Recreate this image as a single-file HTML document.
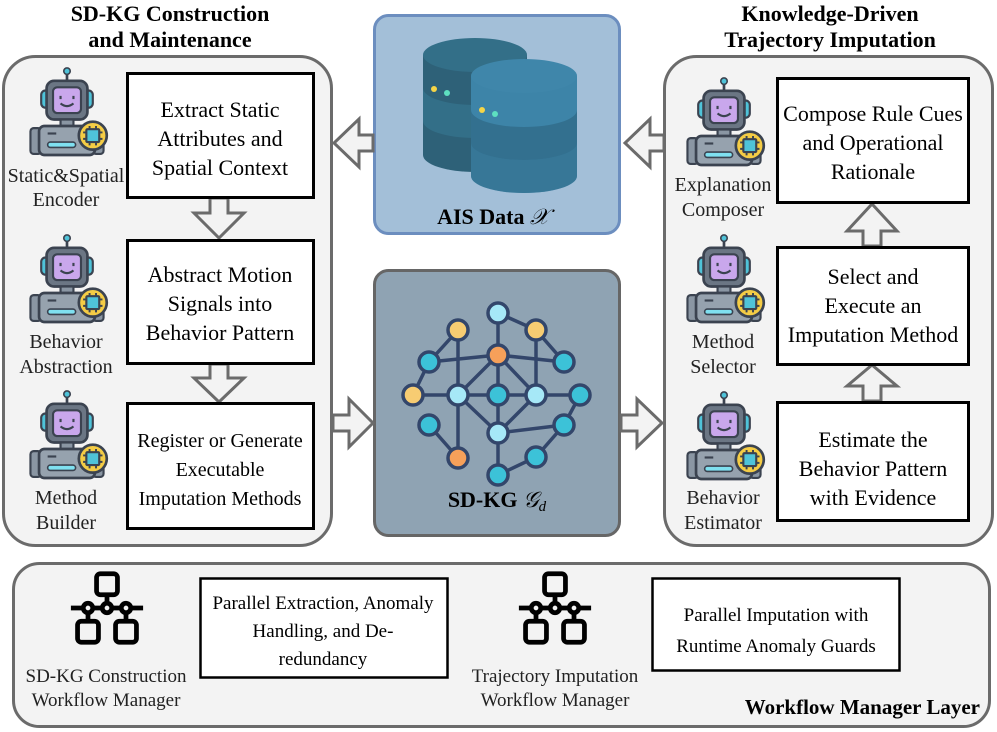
<!DOCTYPE html>
<html><head><meta charset="utf-8"><style>
html,body{margin:0;padding:0;background:#fff;}
svg{display:block;font-family:"Liberation Serif",serif;}
</style></head><body>
<svg width="997" height="732" viewBox="0 0 997 732" xmlns="http://www.w3.org/2000/svg">
<defs>
<symbol id="robot" viewBox="0 0 80 84">
 <line x1="40" y1="4" x2="40" y2="14" stroke="#3b4350" stroke-width="2.5"/>
 <circle cx="40" cy="4" r="3" fill="#4fc3d9" stroke="#3b4350" stroke-width="1.5"/>
 <rect x="16" y="22" width="8" height="16" rx="4" fill="#4fc3d9" stroke="#3b4350" stroke-width="2"/>
 <rect x="56" y="22" width="8" height="16" rx="4" fill="#4fc3d9" stroke="#3b4350" stroke-width="2"/>
 <rect x="21" y="13" width="38" height="36" rx="7" fill="#6b7684" stroke="#3b4350" stroke-width="2.5"/>
 <rect x="27" y="19" width="26" height="24" rx="4" fill="#c9a7ec" stroke="#3b4350" stroke-width="2"/>
 <path d="M34 34 Q40 39 46 34" stroke="#3b4350" stroke-width="2" fill="none"/>
 <line x1="34" y1="27" x2="34" y2="30" stroke="#3b4350" stroke-width="2"/>
 <line x1="46" y1="27" x2="46" y2="30" stroke="#3b4350" stroke-width="2"/>
 <rect x="34" y="49" width="12" height="6" fill="#8a96a3" stroke="#3b4350" stroke-width="2"/>
 <rect x="6" y="57" width="10" height="24" rx="3" fill="#8a96a3" stroke="#3b4350" stroke-width="2"/>
 <rect x="64" y="57" width="10" height="24" rx="3" fill="#8a96a3" stroke="#3b4350" stroke-width="2"/>
 <rect x="14" y="55" width="52" height="27" rx="5" fill="#96a2ae" stroke="#3b4350" stroke-width="2.5"/>
 <rect x="22" y="70" width="26" height="5" rx="2.5" fill="#7fe0f0" stroke="#3b4350" stroke-width="1.5"/>
 <line x1="22" y1="62" x2="30" y2="62" stroke="#3b4350" stroke-width="2"/>
 <circle cx="64" cy="64" r="13" fill="#f4cc45" stroke="#3b4350" stroke-width="2.5"/>
 <rect x="58" y="58" width="12" height="12" rx="1" fill="#4fc3d9" stroke="#3b4350" stroke-width="2"/>
 <path d="M61 55v3M67 55v3M61 70v3M67 70v3M55 61h3M55 67h3M70 61h3M70 67h3" stroke="#3b4350" stroke-width="1.8"/>
</symbol>
<symbol id="flow" viewBox="0 0 80 80">
 <g fill="none" stroke="#000" stroke-width="5">
 <rect x="29" y="4" width="22" height="22" rx="4"/>
 <line x1="40" y1="26" x2="40" y2="35"/>
 <line x1="2" y1="40" x2="78" y2="40"/>
 <circle cx="20" cy="40" r="5" fill="#f2f2f2"/>
 <circle cx="40" cy="40" r="5" fill="#f2f2f2"/>
 <circle cx="60" cy="40" r="5" fill="#f2f2f2"/>
 <line x1="20" y1="45" x2="20" y2="54"/>
 <line x1="60" y1="45" x2="60" y2="54"/>
 <rect x="9" y="54" width="22" height="22" rx="4"/>
 <rect x="49" y="54" width="22" height="22" rx="4"/>
 </g>
</symbol>
</defs>

<g font-weight="bold" font-size="22" text-anchor="middle" fill="#000">
<text x="170" y="21">SD-KG Construction</text>
<text x="170" y="47">and Maintenance</text>
<text x="830" y="21">Knowledge-Driven</text>
<text x="830" y="47">Trajectory Imputation</text>
</g>

<rect x="3.5" y="56.5" width="328" height="489" rx="32" fill="#f3f3f3" stroke="#6b6b6b" stroke-width="3"/>
<rect x="664.5" y="56.5" width="328" height="489" rx="32" fill="#f3f3f3" stroke="#6b6b6b" stroke-width="3"/>
<rect x="13.5" y="563.5" width="976" height="163" rx="26" fill="#f3f3f3" stroke="#6b6b6b" stroke-width="3"/>

<rect x="374.5" y="15.5" width="245" height="218" rx="14" fill="#a3bfd8" stroke="#6c8ebf" stroke-width="3"/>
<g>
 <path d="M423 55 v100 a52 17 0 0 0 104 0 v-100z" fill="#2e6178"/>
 <path d="M423 88 a52 17 0 0 0 104 0 v33 a52 17 0 0 1 -104 0z" fill="#336f88"/>
 <ellipse cx="475" cy="55" rx="52" ry="17" fill="#336f88"/>
 <circle cx="434" cy="89" r="3" fill="#f5d547"/><circle cx="447" cy="93" r="3" fill="#5ee0c0"/>
 <path d="M471 76 v100 a53 17 0 0 0 106 0 v-100z" fill="#3d84a8"/>
 <path d="M471 110 a53 17 0 0 0 106 0 v33 a53 17 0 0 1 -106 0z" fill="#33708f"/>
 <path d="M471 143 a53 17 0 0 0 106 0 v33 a53 17 0 0 1 -106 0z" fill="#336e8c" opacity="0.6"/>
 <ellipse cx="524" cy="76" rx="53" ry="17" fill="#3f86aa"/>
 <circle cx="482" cy="110" r="3" fill="#f5d547"/><circle cx="495" cy="114" r="3" fill="#5ee0c0"/>
</g>
<text x="493" y="224" text-anchor="middle" font-weight="bold" font-size="22">AIS Data <tspan font-style="italic" font-weight="normal">𝒳</tspan></text>

<rect x="374.5" y="270.5" width="245" height="265" rx="14" fill="#8fa3b3" stroke="#666" stroke-width="3"/>
<g stroke="#33466b" stroke-width="3.5">
 <line x1="498" y1="313" x2="498" y2="475"/>
 <line x1="498" y1="313" x2="536" y2="330"/>
 <line x1="536" y1="330" x2="564" y2="362"/>
 <line x1="536" y1="330" x2="536" y2="395"/>
 <line x1="458" y1="330" x2="429" y2="362"/>
 <line x1="458" y1="330" x2="458" y2="458"/>
 <line x1="429" y1="362" x2="498" y2="355"/>
 <line x1="498" y1="355" x2="564" y2="362"/>
 <line x1="429" y1="362" x2="413" y2="395"/>
 <line x1="413" y1="395" x2="580" y2="395"/>
 <line x1="498" y1="355" x2="458" y2="395"/>
 <line x1="498" y1="355" x2="536" y2="395"/>
 <line x1="458" y1="395" x2="498" y2="433"/>
 <line x1="536" y1="395" x2="498" y2="433"/>
 <line x1="498" y1="433" x2="564" y2="425"/>
 <line x1="580" y1="395" x2="564" y2="425"/>
 <line x1="429" y1="425" x2="458" y2="458"/>
 <line x1="498" y1="475" x2="536" y2="457"/>
 <line x1="536" y1="457" x2="564" y2="425"/>
</g>
<g stroke="#33466b" stroke-width="3.5">
 <circle cx="498" cy="313" r="10" fill="#a6e8f7"/>
 <circle cx="458" cy="330" r="10" fill="#f7cc72"/>
 <circle cx="536" cy="330" r="10" fill="#f7cc72"/>
 <circle cx="429" cy="362" r="10" fill="#3cc2d8"/>
 <circle cx="498" cy="355" r="10" fill="#f6a05a"/>
 <circle cx="564" cy="362" r="10" fill="#3cc2d8"/>
 <circle cx="413" cy="395" r="10" fill="#f7cc72"/>
 <circle cx="458" cy="395" r="10" fill="#a6e8f7"/>
 <circle cx="498" cy="395" r="10" fill="#3cc2d8"/>
 <circle cx="536" cy="395" r="10" fill="#a6e8f7"/>
 <circle cx="580" cy="395" r="10" fill="#3cc2d8"/>
 <circle cx="429" cy="425" r="10" fill="#3cc2d8"/>
 <circle cx="498" cy="433" r="10" fill="#a6e8f7"/>
 <circle cx="564" cy="425" r="10" fill="#3cc2d8"/>
 <circle cx="458" cy="458" r="10" fill="#f6a05a"/>
 <circle cx="536" cy="457" r="10" fill="#3cc2d8"/>
 <circle cx="498" cy="475" r="10" fill="#3cc2d8"/>
</g>
<text x="497" y="507" text-anchor="middle" font-weight="bold" font-size="22">SD-KG <tspan font-style="italic" font-weight="normal">𝒢<tspan font-size="15" dy="4">d</tspan></tspan></text>

<g fill="#f3f3f3" stroke="#6b6b6b" stroke-width="3" stroke-linejoin="miter">
 <path d="M373 135 H359 V119 L334 143 L359 167 V151 H373 Z"/>
 <path d="M664 135 H650 V119 L625 143 L650 167 V151 H664 Z"/>
 <path d="M333 415 H349 V399 L373 423 L349 447 V431 H333 Z"/>
 <path d="M621 415 H637 V399 L662 423 L637 447 V431 H621 Z"/>
 <path d="M210 198 V213 H194 L219 238 L244 213 H228 V198 Z"/>
 <path d="M210 364 V378 H194 L219 402 L244 378 H228 V364 Z"/>
 <path d="M863 246 V231 H847 L872 204 L897 231 H881 V246 Z"/>
 <path d="M863 401 V386 H847 L872 365 L897 386 H881 V401 Z"/>
</g>

<g fill="#fff" stroke="#000" stroke-width="3">
 <rect x="127.5" y="73.5" width="186" height="124"/>
 <rect x="127.5" y="240.5" width="186" height="123"/>
 <rect x="127.5" y="403.5" width="186" height="125"/>
 <rect x="777.5" y="78.5" width="191" height="124"/>
 <rect x="777.5" y="247.5" width="191" height="117"/>
 <rect x="777.5" y="402.5" width="191" height="118"/>
 <rect x="200.5" y="578.5" width="247" height="99" stroke-width="2.5"/>
 <rect x="652.5" y="578.5" width="247" height="92" stroke-width="2.5"/>
</g>
<g font-size="22" text-anchor="middle" fill="#000">
 <text x="220" y="117">Extract Static</text>
 <text x="220" y="146">Attributes and</text>
 <text x="220" y="175">Spatial Context</text>
 <text x="220" y="282">Abstract Motion</text>
 <text x="220" y="311">Signals into</text>
 <text x="220" y="340">Behavior Pattern</text>
 <text x="220" y="447" font-size="20">Register or Generate</text>
 <text x="220" y="476" font-size="20">Executable</text>
 <text x="220" y="505" font-size="20">Imputation Methods</text>
 <text x="873" y="121">Compose Rule Cues</text>
 <text x="873" y="150">and Operational</text>
 <text x="873" y="179">Rationale</text>
 <text x="873" y="284">Select and</text>
 <text x="873" y="313">Execute an</text>
 <text x="873" y="342">Imputation Method</text>
 <text x="873" y="447">Estimate the</text>
 <text x="873" y="476">Behavior Pattern</text>
 <text x="873" y="505">with Evidence</text>
</g>
<g font-size="19" text-anchor="middle" fill="#000">
 <text x="323" y="609">Parallel Extraction, Anomaly</text>
 <text x="323" y="637">Handling, and De-</text>
 <text x="323" y="665">redundancy</text>
 <text x="776" y="621">Parallel Imputation with</text>
 <text x="776" y="652">Runtime Anomaly Guards</text>
</g>

<use href="#robot" x="24" y="66" width="86" height="92"/>
<use href="#robot" x="24" y="233" width="86" height="92"/>
<use href="#robot" x="24" y="389" width="86" height="92"/>
<use href="#robot" x="681" y="76" width="86" height="92"/>
<use href="#robot" x="681" y="233" width="86" height="92"/>
<use href="#robot" x="681" y="390" width="86" height="92"/>
<g font-size="20" text-anchor="middle" fill="#222">
 <text x="66" y="182">Static&amp;Spatial</text>
 <text x="66" y="206">Encoder</text>
 <text x="66" y="348">Behavior</text>
 <text x="66" y="373">Abstraction</text>
 <text x="66" y="504">Method</text>
 <text x="66" y="529">Builder</text>
 <text x="723" y="191">Explanation</text>
 <text x="723" y="216">Composer</text>
 <text x="723" y="348">Method</text>
 <text x="723" y="373">Selector</text>
 <text x="723" y="504">Behavior</text>
 <text x="723" y="529">Estimator</text>
</g>

<use href="#flow" x="69" y="570" width="76" height="76"/>
<use href="#flow" x="517" y="570" width="76" height="76"/>
<g font-size="19" text-anchor="middle" fill="#222">
 <text x="106" y="682">SD-KG Construction</text>
 <text x="106" y="706">Workflow Manager</text>
 <text x="555" y="682">Trajectory Imputation</text>
 <text x="555" y="706">Workflow Manager</text>
</g>
<text x="980" y="714" text-anchor="end" font-weight="bold" font-size="21">Workflow Manager Layer</text>
</svg>
</body></html>
